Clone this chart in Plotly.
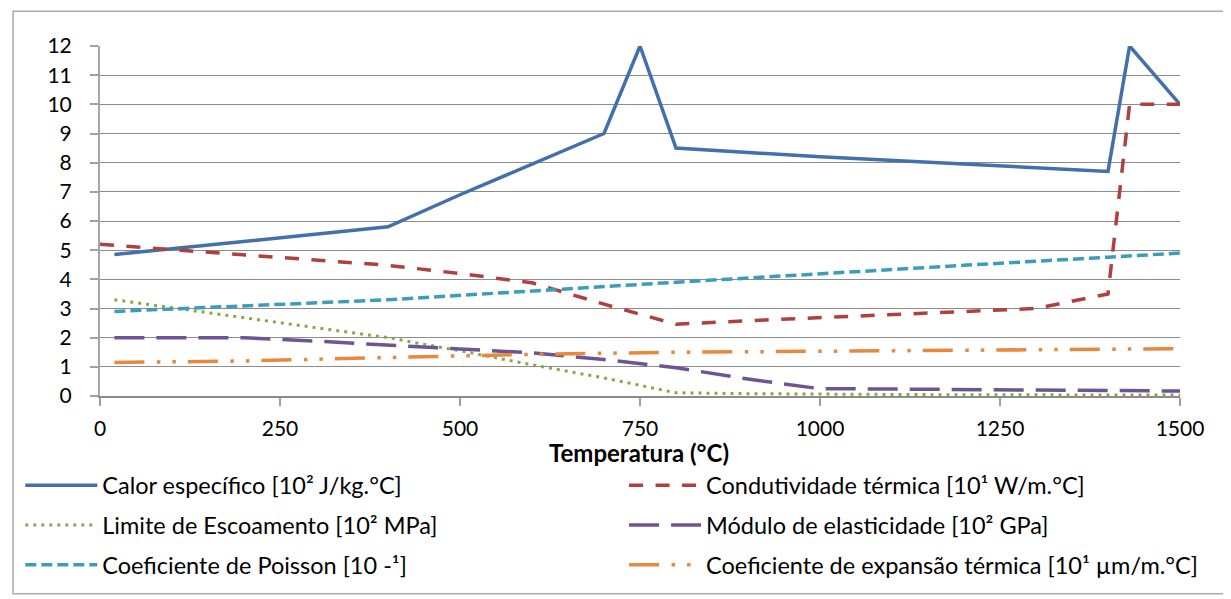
import plotly.graph_objects as go

# ---- data ----
t_calor = [20, 400, 500, 600, 700, 750, 800, 1000, 1200, 1400, 1430, 1500]
v_calor = [4.85, 5.8, 6.9, 7.95, 9.0, 12.0, 8.5, 8.2, 7.95, 7.7, 12.0, 10.0]

t_cond = [0, 100, 200, 300, 400, 500, 600, 700, 750, 800, 900, 1000, 1100, 1200, 1300, 1400, 1430, 1500]
v_cond = [5.2, 5.02, 4.84, 4.66, 4.48, 4.2, 3.88, 3.15, 2.8, 2.46, 2.58, 2.68, 2.78, 2.88, 3.0, 3.5, 10.0, 10.0]

t_lim = [20, 400, 500, 600, 700, 800, 900, 1000, 1100, 1200, 1300, 1400, 1500]
v_lim = [3.3, 2.0, 1.55, 1.07, 0.62, 0.11, 0.08, 0.06, 0.05, 0.04, 0.04, 0.03, 0.03]

t_mod = [20, 100, 200, 300, 400, 500, 600, 700, 800, 900, 1000, 1100, 1200, 1300, 1400, 1500]
v_mod = [2.0, 2.0, 2.0, 1.88, 1.75, 1.6, 1.48, 1.25, 0.97, 0.58, 0.25, 0.24, 0.22, 0.2, 0.18, 0.17]

t_poi = [20, 400, 800, 1000, 1200, 1400, 1500]
v_poi = [2.9, 3.3, 3.9, 4.2, 4.48, 4.76, 4.9]

t_exp = [20, 200, 400, 600, 800, 1000, 1200, 1400, 1500]
v_exp = [1.15, 1.2, 1.32, 1.43, 1.5, 1.53, 1.56, 1.6, 1.62]

names = [
    "Calor específico [10² J/kg.°C]",
    "Condutividade térmica [10¹ W/m.°C]",
    "Limite de Escoamento [10² MPa]",
    "Módulo de elasticidade [10² GPa]",
    "Coeficiente de Poisson [10 -¹]",
    "Coeficiente de expansão térmica [10¹ µm/m.°C]",
]
x_title = "Temperatura (°C)"
x_ticks = [0, 250, 500, 750, 1000, 1250, 1500]
y_ticks = list(range(0, 13))

FONT = "Lato"
colors = ["#4170AD", "#B0403D", "#84AA46", "#6E5494", "#3C9DB8", "#E8883C"]
dashes = ["solid", "14px,12.5px", "3px,5px", "30px,12px", "11px,5px",
          "30px,12.5px,3.5px,12px,3.5px,12px"]
widths = [3.5, 3.5, 3, 3.5, 3.5, 3.5]

series = [(t_calor, v_calor), (t_cond, v_cond), (t_lim, v_lim),
          (t_mod, v_mod), (t_poi, v_poi), (t_exp, v_exp)]

fig = go.Figure()
legend_ids = ["legend", "legend2", "legend3", "legend4", "legend5", "legend6"]
for i, ((t, v), nm) in enumerate(zip(series, names)):
    fig.add_trace(go.Scatter(
        x=t, y=v, mode="lines", name=nm,
        line=dict(color=colors[i], width=widths[i], dash=dashes[i]),
        legend=legend_ids[i],
    ))

# page has an 8px body margin: work in figure pixel coords (page - 8)
W, H = 1223, 591
ml, mr, mt, mb = 88, 51, 38, 201
pw, ph = W - ml - mr, H - mt - mb

def px_to_paper(xp, yp):
    return (xp - ml) / pw, (H - mb - yp) / ph

row_y = [480, 480, 520, 520, 560, 560]
col_x = [8, 614, 8, 614, 8, 614]
legend_layout = {}
for i, lid in enumerate(legend_ids):
    lx, ly = px_to_paper(col_x[i], row_y[i])
    legend_layout[lid] = dict(
        x=lx, y=ly, xanchor="left", yanchor="middle",
        orientation="h", itemwidth=72,
        font=dict(family=FONT, size=23.5, color="#000000"),
        bgcolor="rgba(0,0,0,0)", borderwidth=0,
    )

bx0, by0 = px_to_paper(0.75, 589)
bx1, by1 = px_to_paper(1216, 3)
tx, ty = px_to_paper(637 - 8, 455 - 8)

fig.update_layout(
    width=W, height=H,
    margin=dict(l=ml, r=mr, t=mt, b=mb, pad=0),
    paper_bgcolor="white", plot_bgcolor="white",
    font=dict(family=FONT, size=21, color="#000000"),
    showlegend=True,
    shapes=[dict(type="rect", xref="paper", yref="paper",
                 x0=bx0, y0=by0, x1=bx1, y1=by1,
                 line=dict(color="#ababab", width=1.5), layer="below")],
    annotations=[dict(text="<b>" + x_title + "</b>", xref="paper", yref="paper",
                      x=tx, y=ty, xanchor="center", yanchor="middle",
                      showarrow=False,
                      font=dict(family=FONT, size=24, color="#000000"))],
    **legend_layout,
)

fig.update_xaxes(
    range=[0, 1500], tickvals=x_ticks, ticktext=[str(v) for v in x_ticks],
    showgrid=False, zeroline=False,
    showline=True, linecolor="#8c8c8c", linewidth=1.5,
    ticks="outside", ticklen=8, tickwidth=1.5, tickcolor="#a0a0a0",
    ticklabelstandoff=5,
    tickfont=dict(family=FONT, size=21, color="#000000"),
)
fig.update_yaxes(
    range=[0, 12], tickvals=y_ticks, ticktext=[str(v) for v in y_ticks],
    showgrid=True, gridcolor="#8c8c8c", gridwidth=1.3, zeroline=False,
    showline=True, linecolor="#a6a6a6", linewidth=2,
    ticks="outside", ticklen=8, tickwidth=1.5, tickcolor="#a0a0a0",
    ticklabelstandoff=14,
    tickfont=dict(family=FONT, size=21, color="#000000"),
)

fig.write_html("out.html")
